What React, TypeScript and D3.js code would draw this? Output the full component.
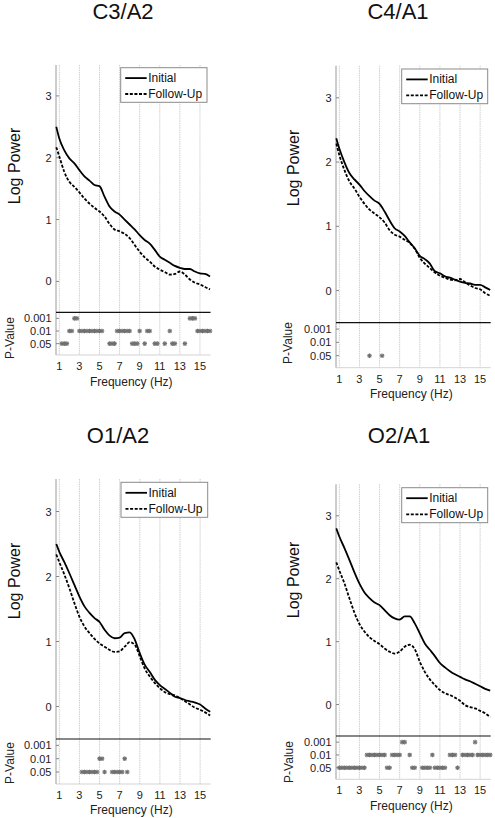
import React from "react";
import * as d3 from "d3";

const FREQS = [0.7, 1, 1.5, 2, 2.5, 3, 3.5, 4, 4.5, 5, 5.5, 6, 6.5, 7, 7.5, 8, 8.5, 9, 9.5, 10, 10.5, 11, 11.5, 12, 12.5, 13, 13.5, 14, 14.5, 15, 15.5, 16];

const C3_INITIAL = [2.5, 2.31, 2.12, 1.99, 1.91, 1.8, 1.7, 1.63, 1.56, 1.54, 1.37, 1.21, 1.13, 1.08, 1.0, 0.92, 0.84, 0.75, 0.67, 0.61, 0.51, 0.4, 0.35, 0.3, 0.25, 0.22, 0.2, 0.2, 0.16, 0.13, 0.12, 0.08];
const C3_FOLLOW = [2.17, 2.02, 1.77, 1.61, 1.53, 1.44, 1.34, 1.26, 1.19, 1.13, 1.05, 0.93, 0.84, 0.81, 0.77, 0.7, 0.59, 0.48, 0.39, 0.32, 0.24, 0.19, 0.15, 0.11, 0.12, 0.16, 0.11, 0.03, -0.02, -0.05, -0.09, -0.13];
const C4_INITIAL = [2.37, 2.21, 2.0, 1.83, 1.73, 1.65, 1.55, 1.47, 1.4, 1.35, 1.23, 1.09, 0.97, 0.92, 0.85, 0.75, 0.66, 0.54, 0.49, 0.42, 0.3, 0.27, 0.22, 0.2, 0.17, 0.14, 0.12, 0.11, 0.09, 0.09, 0.05, 0.01];
const C4_FOLLOW = [2.29, 2.11, 1.88, 1.7, 1.59, 1.46, 1.35, 1.26, 1.2, 1.14, 1.06, 0.94, 0.87, 0.84, 0.79, 0.74, 0.65, 0.51, 0.42, 0.35, 0.28, 0.23, 0.2, 0.17, 0.16, 0.18, 0.13, 0.08, 0.04, 0.02, -0.04, -0.08];
const O1_INITIAL = [2.5, 2.38, 2.22, 2.05, 1.87, 1.69, 1.54, 1.44, 1.36, 1.3, 1.18, 1.09, 1.05, 1.06, 1.13, 1.14, 1.03, 0.82, 0.64, 0.53, 0.41, 0.33, 0.27, 0.21, 0.15, 0.13, 0.1, 0.08, 0.06, 0.03, -0.03, -0.08];
const O1_FOLLOW = [2.34, 2.22, 2.03, 1.82, 1.59, 1.38, 1.23, 1.13, 1.04, 0.97, 0.92, 0.87, 0.84, 0.85, 0.92, 0.99, 0.95, 0.77, 0.58, 0.46, 0.36, 0.28, 0.22, 0.19, 0.17, 0.13, 0.08, 0.03, -0.02, -0.05, -0.09, -0.14];
const O2_INITIAL = [2.8, 2.67, 2.49, 2.3, 2.1, 1.92, 1.78, 1.69, 1.62, 1.58, 1.5, 1.42, 1.37, 1.35, 1.4, 1.4, 1.29, 1.13, 0.97, 0.87, 0.77, 0.66, 0.59, 0.53, 0.48, 0.44, 0.4, 0.37, 0.33, 0.29, 0.25, 0.22];
const O2_FOLLOW = [2.26, 2.13, 1.93, 1.69, 1.46, 1.28, 1.16, 1.07, 1.01, 0.96, 0.89, 0.84, 0.81, 0.84, 0.92, 0.95, 0.88, 0.68, 0.52, 0.4, 0.31, 0.23, 0.18, 0.15, 0.11, 0.06, -0.01, -0.04, -0.06, -0.1, -0.14, -0.2];

// significant frequencies (Hz) per p-value level
const C3_P001 = [2.5, 2.75, 14, 14.25, 14.5];
const C3_P01 = [2, 2.25, 3, 3.25, 3.5, 3.75, 4, 4.25, 4.5, 4.75, 5, 5.25, 6.75, 7, 7.25, 7.5, 7.75, 8, 9, 9.75, 10, 12, 14.75, 15, 15.25, 15.5, 15.75, 16];
const C3_P05 = [1.25, 1.5, 1.75, 6, 6.25, 6.5, 8.25, 8.5, 8.75, 9.5, 10.5, 10.75, 11.5, 12.25, 12.5, 13.5];
const C4_P001: number[] = [];
const C4_P01: number[] = [];
const C4_P05 = [4, 5.25];
const O1_P001: number[] = [];
const O1_P01 = [5, 5.25, 7.5];
const O1_P05 = [3.25, 3.5, 3.75, 4, 4.25, 4.5, 4.75, 5.5, 6.25, 6.5, 6.75, 7, 7.25, 7.75];
const O2_P001 = [7.25, 7.5, 14.5];
const O2_P01 = [3.75, 4, 4.25, 4.5, 4.75, 5, 5.25, 5.5, 6.25, 6.5, 6.75, 7, 8, 10.25, 12, 12.25, 12.5, 13.25, 13.5, 13.75, 14, 14.25, 14.75, 15, 15.25, 15.5, 15.75, 16];
const O2_P05 = [1, 1.25, 1.5, 1.75, 2, 2.25, 2.5, 2.75, 3, 3.25, 3.5, 5.75, 6, 8.25, 8.5, 9.25, 9.5, 9.75, 10, 10.5, 10.75, 11, 11.25, 11.5, 12.75];

const P_LEVELS = ["0.001", "0.01", "0.05"];
const X_TICKS = [1, 3, 5, 7, 9, 11, 13, 15];
const Y_TICKS = [0, 1, 2, 3];
const SERIES_NAMES = ["Initial", "Follow-Up"];
const TITLES = ["C3/A2", "C4/A1", "O1/A2", "O2/A1"];

const LAYOUTS = [
  { titleX: 123, titleY: 18.5, left: 56, right: 210.5, top: 65, mainBottom: 312.3, pBottom: 355, xLabelY: 366, freqY: 381.5, logX: 14, logY: 166, pvX: 10, pvY: 338, lx: 120.7, ly: 67.7, lw: 86.3, lh: 34.6 },
  { titleX: 398, titleY: 18.5, left: 336, right: 490.7, top: 65.7, mainBottom: 322.7, pBottom: 367.7, xLabelY: 379, freqY: 393.5, logX: 293, logY: 168, pvX: 288, pvY: 343, lx: 401.7, ly: 69, lw: 86, lh: 34.7 },
  { titleX: 118, titleY: 443, left: 56, right: 210.7, top: 479, mainBottom: 739, pBottom: 784, xLabelY: 794.5, freqY: 810, logX: 14, logY: 581, pvX: 10, pvY: 763, lx: 121, ly: 482.3, lw: 86.7, lh: 35 },
  { titleX: 399, titleY: 443, left: 336, right: 490.7, top: 484.3, mainBottom: 736, pBottom: 779.3, xLabelY: 790, freqY: 806, logX: 293, logY: 580, pvX: 289, pvY: 762, lx: 401.7, ly: 487.7, lw: 86, lh: 35 },
];

const PANELS = [
  { initial: C3_INITIAL, follow: C3_FOLLOW, p: [C3_P001, C3_P01, C3_P05] },
  { initial: C4_INITIAL, follow: C4_FOLLOW, p: [C4_P001, C4_P01, C4_P05] },
  { initial: O1_INITIAL, follow: O1_FOLLOW, p: [O1_P001, O1_P01, O1_P05] },
  { initial: O2_INITIAL, follow: O2_FOLLOW, p: [O2_P001, O2_P01, O2_P05] },
];

const FONT = "'Liberation Sans', Arial, Helvetica, sans-serif";
const DASH = "3,1.6";

function Star({ x, y }: { x: number; y: number }) {
  const r = 2.3;
  const d = 1.7;
  return (
    <g stroke="#6f6f6f" strokeWidth={1.1}>
      <line x1={x - r} y1={y} x2={x + r} y2={y} />
      <line x1={x} y1={y - r} x2={x} y2={y + r} />
      <line x1={x - d} y1={y - d} x2={x + d} y2={y + d} />
      <line x1={x - d} y1={y + d} x2={x + d} y2={y - d} />
    </g>
  );
}

function Panel({ idx }: { idx: number }) {
  const L = LAYOUTS[idx];
  const P = PANELS[idx];
  const x = d3.scaleLinear().domain([0.67, 16.05]).range([L.left, L.right]);
  const y = d3.scaleLinear().domain([-0.5, 3.5]).range([L.mainBottom, L.top]);
  const yp = d3.scaleLinear().domain([-0.48, 2.9]).range([L.mainBottom, L.pBottom]);
  const line = d3
    .line<number>()
    .x((_, i) => x(FREQS[i]))
    .y((v) => y(v))
    .curve(d3.curveMonotoneX);

  return (
    <g fontFamily={FONT}>
      <text x={L.titleX} y={L.titleY} textAnchor="middle" fontSize={22} fill="#111">
        {TITLES[idx]}
      </text>
      {X_TICKS.map((t) => (
        <line key={"g" + t} x1={x(t)} x2={x(t)} y1={L.top} y2={L.pBottom} stroke="#cfcfcf" strokeWidth={1} strokeDasharray="1.5,0.8" />
      ))}
      <line x1={L.left} x2={L.left} y1={L.top} y2={L.pBottom} stroke="#9a9a9a" strokeWidth={1} />
      <line x1={L.left} x2={L.right} y1={L.pBottom} y2={L.pBottom} stroke="#c8c8c8" strokeWidth={0.8} />
      {Y_TICKS.map((t) => (
        <g key={"y" + t}>
          <line x1={L.left} x2={L.left + 3} y1={y(t)} y2={y(t)} stroke="#888" />
          <text x={L.left - 4.5} y={y(t)} textAnchor="end" dominantBaseline="central" fontSize={11} fill="#222">
            {t}
          </text>
        </g>
      ))}
      {P_LEVELS.map((lab, i) => (
        <g key={"p" + lab}>
          <line x1={L.left} x2={L.left + 3} y1={yp(i)} y2={yp(i)} stroke="#888" />
          <text x={L.left - 4.5} y={yp(i)} textAnchor="end" dominantBaseline="central" fontSize={11} fill="#222">
            {lab}
          </text>
        </g>
      ))}
      {X_TICKS.map((t) => (
        <text key={"xl" + t} x={x(t)} y={L.xLabelY} textAnchor="middle" dominantBaseline="central" fontSize={11} fill="#222">
          {t}
        </text>
      ))}
      <text x={(L.left + L.right) / 2 - 2} y={L.freqY} textAnchor="middle" dominantBaseline="central" fontSize={12} fill="#222">
        Frequency (Hz)
      </text>
      <text transform={`translate(${L.logX},${L.logY}) rotate(-90)`} textAnchor="middle" dominantBaseline="central" fontSize={16} fill="#111">
        Log Power
      </text>
      <text transform={`translate(${L.pvX},${L.pvY}) rotate(-90)`} textAnchor="middle" dominantBaseline="central" fontSize={12} fill="#222">
        P-Value
      </text>
      <path d={line(P.initial) || ""} fill="none" stroke="#000" strokeWidth={1.8} />
      <path d={line(P.follow) || ""} fill="none" stroke="#000" strokeWidth={1.8} strokeDasharray={DASH} />
      <line x1={L.left} x2={L.right} y1={L.mainBottom} y2={L.mainBottom} stroke="#111" strokeWidth={1.2} />
      {P.p.map((arr, lvl) => arr.map((f) => <Star key={`s${lvl}-${f}`} x={x(f)} y={yp(lvl)} />))}
      <rect x={L.lx} y={L.ly} width={L.lw} height={L.lh} fill="#fff" stroke="#8a8a8a" strokeWidth={1} />
      {SERIES_NAMES.map((name, i) => {
        const ry = L.ly + (i === 0 ? 0.3 : 0.76) * L.lh;
        return (
          <g key={name}>
            <line x1={L.lx + 4.5} x2={L.lx + 26} y1={ry} y2={ry} stroke="#000" strokeWidth={1.8} strokeDasharray={i === 1 ? DASH : undefined} />
            <text x={L.lx + 27.5} y={ry} dominantBaseline="central" fontSize={12} fill="#111">
              {name}
            </text>
          </g>
        );
      })}
    </g>
  );
}

export default function App() {
  return (
    <svg width={495} height={818} style={{ position: "absolute", left: 0, top: 0, background: "#fff" }}>
      <rect width={495} height={818} fill="#fff" />
      {PANELS.map((_, i) => (
        <Panel key={i} idx={i} />
      ))}
    </svg>
  );
}
